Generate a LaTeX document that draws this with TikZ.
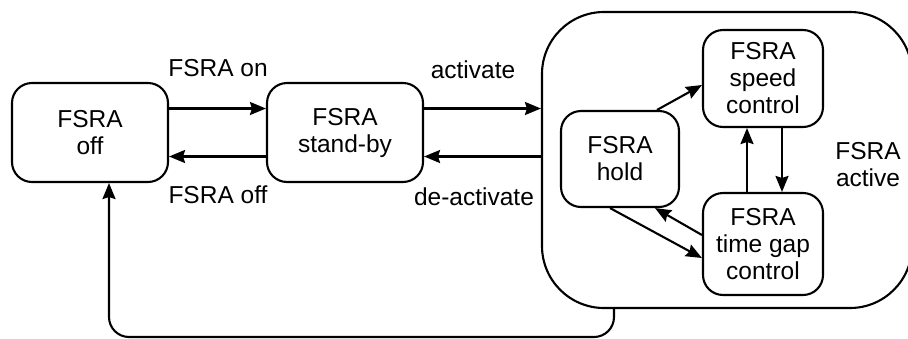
\documentclass[tikz,border=0pt]{standalone}
\usepackage{fontspec}
\setmainfont{Liberation Sans}
\usetikzlibrary{arrows.meta}
\begin{document}
\begin{tikzpicture}[x=1pt,y=-1pt,
  every node/.style={font=\fontsize{24.5}{27}\selectfont},
  state/.style={draw, line width=2.1pt, rounded corners=20pt, align=center, inner sep=0pt},
  lbl/.style={inner sep=0pt, align=center},
  arr/.style={line width=2.1pt, -{Stealth[inset=2pt,length=16pt,width=13pt]}}]
\useasboundingbox (0,0) rectangle (908,338);
\clip (0,0) rectangle (908,338);
% nodes
\node[state, minimum width=156pt, minimum height=99pt] (off) at (90,132.5) {FSRA\\off};
\node[state, minimum width=156pt, minimum height=99pt] (standby) at (345,132.5) {FSRA\\stand-by};
\node[state, rounded corners=62pt, minimum width=370pt, minimum height=296pt] (active) at (727,160) {};
\node[state, minimum width=118pt, minimum height=96pt] (hold) at (620,159) {FSRA\\hold};
\node[state, minimum width=120pt, minimum height=97pt] (speed) at (763,78.5) {FSRA\\speed\\control};
\node[state, minimum width=120pt, minimum height=102pt] (gap) at (763,244) {FSRA\\time gap\\control};
\node[lbl] (activelbl) at (868,165) {FSRA\\active};
% labels
\node[lbl] (lon) at (218,68) {FSRA on};
\node[lbl] (loff) at (218,195) {FSRA off};
\node[lbl] (lact) at (473,70) {activate};
\node[lbl] (ldeact) at (474,197) {de-activate};
% connectors
\draw[arr] ([yshift=24pt]off.east) -- ([yshift=24pt]standby.west);
\draw[arr] ([yshift=-24pt]standby.west) -- ([yshift=-24pt]off.east);
\draw[arr] ([yshift=24pt]standby.east) coordinate (a1) -- (a1 -| active.west);
\coordinate (d1) at ([yshift=-24pt]standby.east);
\draw[arr] (d1 -| active.west) -- (d1);
\draw[arr] ([xshift=37pt]hold.north) -- ([yshift=-6.5pt]speed.west);
\draw[arr] ([xshift=19pt]speed.south) -- ([xshift=19pt]gap.north);
\draw[arr] ([xshift=-16pt]gap.north) -- ([xshift=-16pt]speed.south);
\draw[arr] ([yshift=9pt]gap.west) -- ([xshift=35pt]hold.south);
\draw[arr] ([xshift=-10pt]hold.south) -- ([yshift=-14pt]gap.west);
\coordinate (r1) at ([xshift=-113pt]active.south);
\coordinate (r2) at ([xshift=19pt]off.south);
\draw[arr, rounded corners=20pt] (r1) -- (r1 |- 0,337) -- (r2 |- 0,337) -- (r2);
\end{tikzpicture}
\end{document}
